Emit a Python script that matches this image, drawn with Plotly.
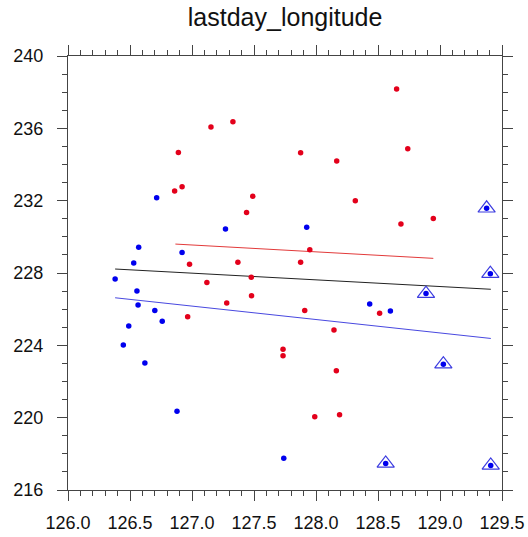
import plotly.graph_objects as go

# Red series (x = longitude, y = value)
red_x = [127.153, 127.33, 126.89, 126.86, 126.92, 127.49, 127.44, 127.876,
         128.65, 128.74, 128.167, 128.317, 128.685, 128.946, 127.95, 127.876,
         126.98, 127.37, 127.12, 127.478, 127.28, 127.48, 126.965, 127.734,
         127.734, 127.909, 128.145, 128.513, 128.164, 127.99, 128.19]
red_y = [236.07, 236.37, 234.67, 232.53, 232.77, 232.24, 231.35, 234.65,
         238.17, 234.87, 234.19, 232.0, 230.71, 231.02, 229.29, 228.59,
         228.48, 228.59, 227.48, 227.76, 226.34, 226.74, 225.58, 223.79,
         223.42, 225.93, 224.85, 225.77, 222.59, 220.05, 220.16]

# Blue series
blue_x = [126.715, 127.27, 126.57, 126.92, 126.53, 126.38, 126.556, 126.565,
          126.70, 126.76, 126.49, 126.446, 126.62, 126.879, 127.74, 127.925,
          128.433, 128.60, 129.376, 129.406, 128.887, 129.027, 128.562, 129.409]
blue_y = [232.16, 230.43, 229.42, 229.14, 228.55, 227.67, 227.0, 226.23,
          225.93, 225.33, 225.07, 224.02, 223.02, 220.35, 217.75, 230.53,
          226.28, 225.9, 231.58, 227.96, 226.86, 222.96, 217.47, 217.36]

# Blue points that are highlighted with a triangle
tri_x = [129.376, 129.406, 128.887, 129.027, 128.562, 129.409]
tri_y = [231.58, 227.96, 226.86, 222.96, 217.47, 217.36]

# Fitted lines (end points)
red_line_x = [126.866, 128.946]
red_line_y = [229.60, 228.81]
all_line_x = [126.38, 129.41]
all_line_y = [228.22, 227.10]
blue_line_x = [126.38, 129.41]
blue_line_y = [226.63, 224.38]

x_ticks = [126.0, 126.5, 127.0, 127.5, 128.0, 128.5, 129.0, 129.5]
y_ticks = [216, 220, 224, 228, 232, 236, 240]

RED = "#E3001B"
BLUE = "#0000EE"

fig = go.Figure()
fig.add_trace(go.Scatter(x=red_line_x, y=red_line_y, mode="lines",
                         line=dict(color="#E23A3A", width=1)))
fig.add_trace(go.Scatter(x=all_line_x, y=all_line_y, mode="lines",
                         line=dict(color="#222222", width=1)))
fig.add_trace(go.Scatter(x=blue_line_x, y=blue_line_y, mode="lines",
                         line=dict(color="#4848E0", width=1)))
fig.add_trace(go.Scatter(x=red_x, y=red_y, mode="markers",
                         marker=dict(color=RED, size=5.5)))
fig.add_trace(go.Scatter(x=blue_x, y=blue_y, mode="markers",
                         marker=dict(color=BLUE, size=5.5)))
fig.add_trace(go.Scatter(x=tri_x, y=tri_y, mode="markers",
                         marker=dict(symbol="triangle-up-open", size=15,
                                     color="#3C3CE0", line=dict(width=1.2))))

axis_common = dict(
    showgrid=False, zeroline=False, showline=True, linecolor="#444444",
    linewidth=1, mirror="allticks", ticks="outside", ticklen=10,
    tickcolor="#444444", tickwidth=1, automargin=False,
    tickfont=dict(family="Liberation Sans, Arial, sans-serif", size=18,
                  color="#111111"),
)

fig.update_xaxes(range=[126.0, 129.5], tickvals=x_ticks,
                 ticktext=[f"{v:.1f}" for v in x_ticks],
                 minor=dict(dtick=0.1, ticklen=5, ticks="outside",
                            tickcolor="#444444", showgrid=False),
                 ticklabelstandoff=6,
                 **axis_common)
fig.update_yaxes(range=[216, 240], tickvals=y_ticks,
                 ticktext=[str(v) for v in y_ticks],
                 minor=dict(dtick=1, ticklen=5, ticks="outside",
                            tickcolor="#444444", showgrid=False),
                 ticklabelstandoff=10,
                 **axis_common)

fig.update_layout(
    width=528, height=537,
    margin=dict(l=68, r=26, t=56, b=47),
    paper_bgcolor="white", plot_bgcolor="white",
    showlegend=False,
    title=dict(text="lastday_longitude", x=0.54, xanchor="center",
               y=0.985, yanchor="top",
               font=dict(family="Liberation Sans, Arial, sans-serif",
                         size=25, color="#111111")),
)

fig.write_html("out.html")
